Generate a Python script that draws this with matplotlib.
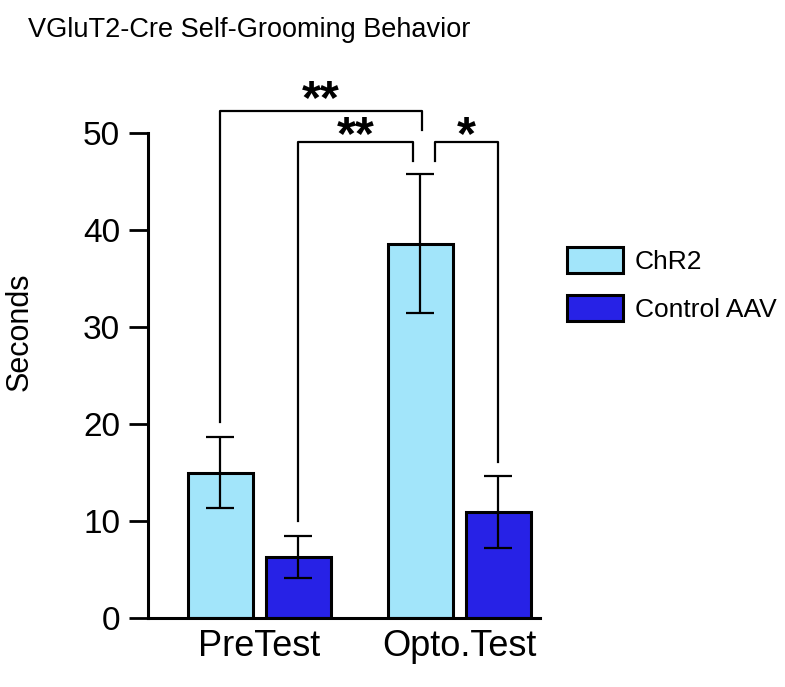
import numpy as np
import matplotlib
matplotlib.use("Agg")
import matplotlib.pyplot as plt

plt.rcParams['font.family'] = ['Liberation Sans', 'DejaVu Sans']

# data
groups = ["PreTest", "Opto.Test"]
series = ["ChR2", "Control AAV"]
chr2_mean = [15.0, 38.6]
chr2_sem = [3.7, 7.2]
ctrl_mean = [6.3, 10.9]
ctrl_sem = [2.2, 3.7]
colors = ["#a2e5fa", "#2722e6"]

# significance brackets: left (group, series), right (group, series), label, level
brackets = [((0, 0), (1, 0), "**", 52.3),
            ((0, 1), (1, 0), "**", 49.1),
            ((1, 0), (1, 1), "*", 49.1)]

fig = plt.figure(figsize=(7.85, 6.87), dpi=100)
ax = fig.add_axes([148 / 785, 1 - 618 / 687, (540 - 148) / 785, (618 - 133) / 687])

x = np.arange(len(groups))
off = 0.195
w = 0.325
pos = [x - off, x + off]
means = [chr2_mean, ctrl_mean]
sems = [chr2_sem, ctrl_sem]

for i in range(2):
    ax.bar(pos[i], means[i], width=w, color=colors[i], edgecolor="black",
           linewidth=2.2, label=series[i], zorder=2)
    ax.errorbar(pos[i], means[i], yerr=sems[i], fmt="none", ecolor="black",
                elinewidth=1.6, capsize=10, capthick=1.6, zorder=3)

# brackets; legs pointing at the tall Opto ChR2 bar stop short and are nudged
# sideways so the three brackets do not touch
gap = 1.5
nudge = {(0, 0, 52.3): 0.01, (0, 1, 49.1): -0.035, (1, 1, 49.1): 0.075}
for (g1, s1), (g2, s2), lab, lev in brackets:
    x1, x2 = pos[s1][g1], pos[s2][g2]
    if (g1, s1) == (1, 0):
        x1 += nudge[(g2, s2, lev)]
        y1 = lev - 2.0
    else:
        y1 = means[s1][g1] + sems[s1][g1] + gap
    if (g2, s2) == (1, 0):
        x2 += nudge[(g1, s1, lev)]
        y2 = lev - 2.0
    else:
        y2 = means[s2][g2] + sems[s2][g2] + gap
    ax.plot([x1, x1, x2, x2], [y1, lev, lev, y2], color="black", lw=1.6,
            clip_on=False, zorder=1)
    ax.text((x1 + x2) / 2, lev - (0.25 if lev > 50 else 0.75), lab, ha="center",
            va="baseline", fontsize=35, fontweight="bold")

ax.set_xlim(-0.555, 1.405)
ax.set_ylim(0, 50)
ax.set_yticks([0, 10, 20, 30, 40, 50])
ax.set_xticks(x)
ax.set_xticklabels(groups, fontsize=26)
ax.tick_params(axis="y", labelsize=24, length=14, width=2, pad=6)
ax.tick_params(axis="x", length=0, pad=8)
for s in ["top", "right"]:
    ax.spines[s].set_visible(False)
for s in ["left", "bottom"]:
    ax.spines[s].set_linewidth(2.2)

fig.text(20 / 785, 1 - 332 / 687, "Seconds", rotation=90, ha="center",
         va="center", fontsize=22)
fig.text(28 / 785, 1 - 37 / 687, "VGluT2-Cre Self-Grooming Behavior",
         ha="left", va="baseline", fontsize=19.5)

fig.legend(loc="upper left", bbox_to_anchor=(567 / 785, 1 - 247 / 687),
           frameon=False, fontsize=19, handlelength=2.12, handleheight=1.14,
           handletextpad=0.45, labelspacing=0.8, borderpad=0, borderaxespad=0)

fig.savefig("out.png", dpi=100)
